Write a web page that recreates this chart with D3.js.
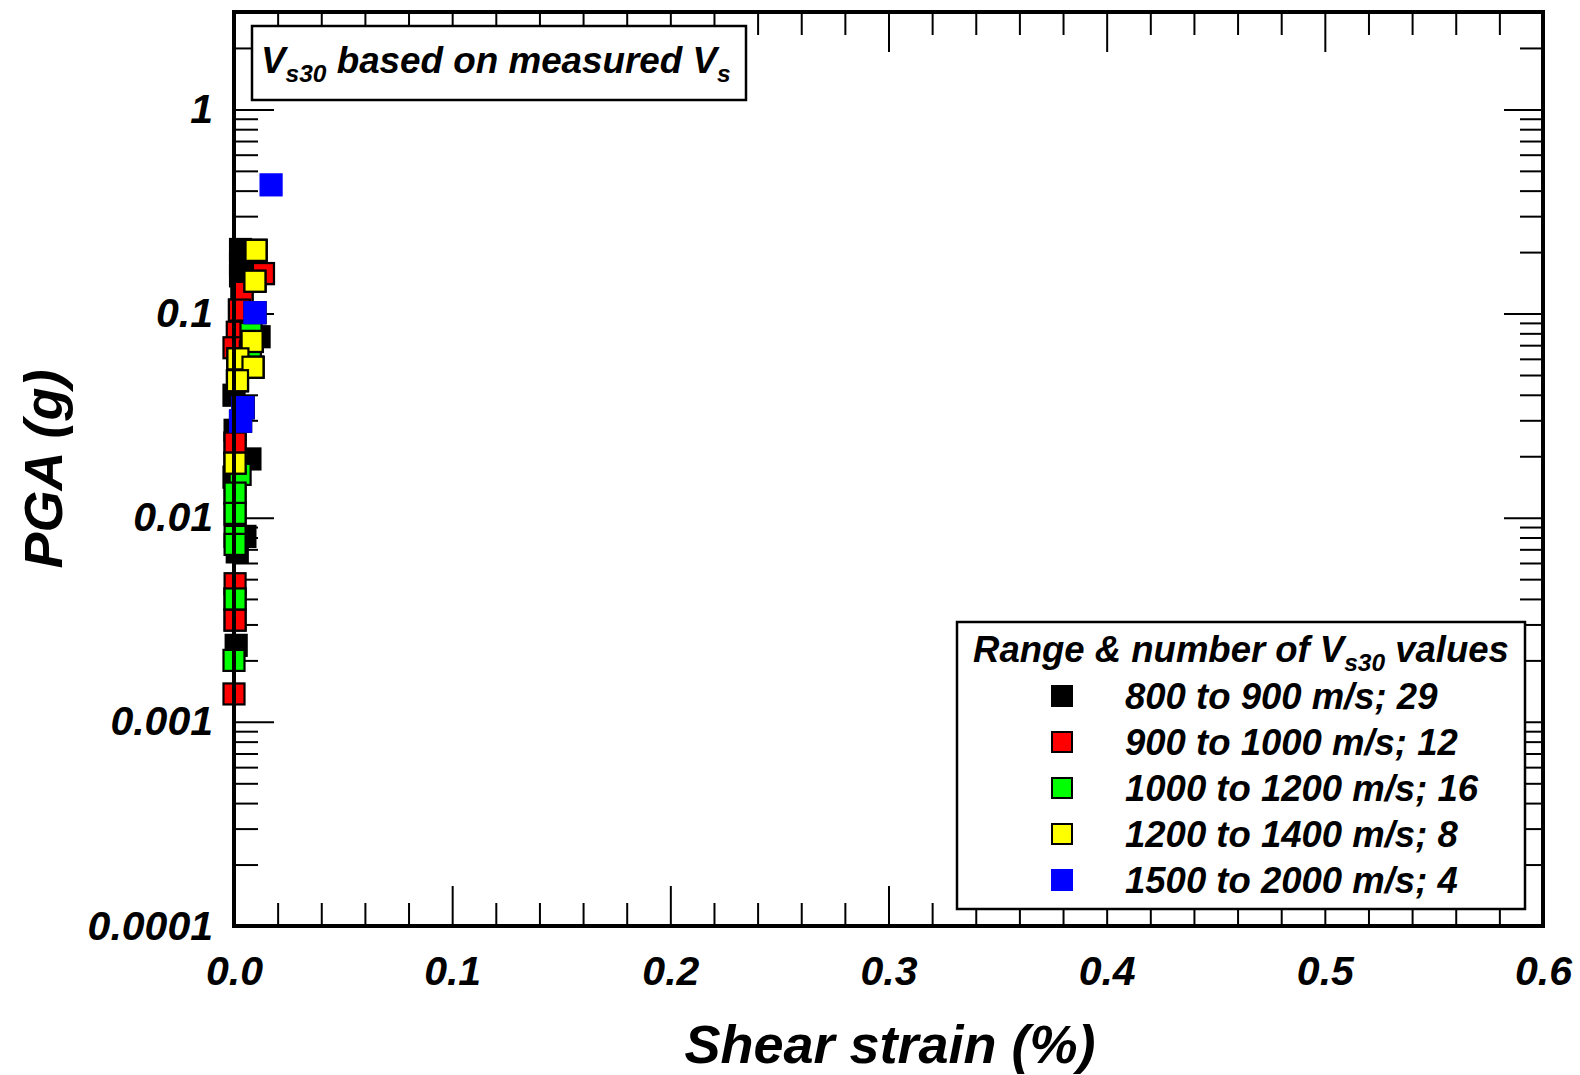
<!DOCTYPE html>
<html>
<head>
<meta charset="utf-8">
<script src="https://cdn.jsdelivr.net/npm/d3@7"></script>
<style>
    body { margin: 0; background: #fff; }
    svg text {
        font-family: "Liberation Sans", Arial, sans-serif;
        font-weight: bold;
        font-style: italic;
        fill: #000;
    }
</style>
</head>
<body>
<div id="chart"></div>
<script>
// Legend groups (Vs30 ranges)
const groupLabels = ['800 to 900 m/s; 29', '900 to 1000 m/s; 12', '1000 to 1200 m/s; 16', '1200 to 1400 m/s; 8', '1500 to 2000 m/s; 4'];
const groupColors = ['#000000', '#ff0000', '#00ff00', '#ffff00', '#0000ff'];

// Shear strain (%) and PGA (g) per group
const strain800 = [0.003, 0.003, 0.003, 0.0115, 0.0, 0.0005, 0.0073, 0.0, 0.005, 0.0015, 0.001,
    0.0101, 0.0096, 0.0135, 0.0025, 0.0096, 0.0083, 0.0018, 0.0087, 0.0016, 0.0041, 0.003, 0.0005, 0.0005, 0.0005, 0.0005, 0.0005, 0.0005, 0.0037];
const pga800 = [0.206, 0.175, 0.153, 0.077, 0.0398, 0.0268, 0.0194, 0.0158, 0.0081, 0.0068, 0.00237,
    0.204, 0.144, 0.157, 0.104, 0.101, 0.073, 0.060, 0.0546, 0.0469, 0.0346, 0.0297, 0.0232, 0.0185, 0.0132, 0.0104, 0.0040, 0.00315, 0.127];

const strain900 = [0.0135, 0.0037, 0.0025, 0.0015, 0.0, 0.0005, 0.0005, 0.0005, 0.0, 0.0101, 0.0096, 0.0018];
const pga900 = [0.157, 0.127, 0.104, 0.081, 0.068, 0.0232, 0.00475, 0.00315, 0.00137, 0.204, 0.144, 0.060];

const strain1000 = [0.0078, 0.0075, 0.0028, 0.0005, 0.0005, 0.0005, 0.0005, 0.0005, 0.0, 0.003, 0.0041, 0.0087, 0.0016, 0.0005, 0.0096, 0.0083];
const pga1000 = [0.080, 0.065, 0.0163, 0.0132, 0.0105, 0.0081, 0.0074, 0.0040, 0.0020, 0.0297, 0.0346, 0.0546, 0.0469, 0.0185, 0.101, 0.073];

const strain1200 = [0.0101, 0.0096, 0.0083, 0.0018, 0.0087, 0.0016, 0.0005, 0.0041];
const pga1200 = [0.204, 0.144, 0.073, 0.060, 0.0546, 0.0469, 0.0185, 0.0346];

const strain1500 = [0.017, 0.0096, 0.0041, 0.003];
const pga1500 = [0.427, 0.101, 0.0346, 0.0297];

// Axis ticks
const xMajorTicks = [0, 0.1, 0.2, 0.3, 0.4, 0.5, 0.6];
const yMajorTicks = [0.0001, 0.001, 0.01, 0.1, 1];

class StrainChart {
    constructor(config) {
        this.config = {
            parentElement: config.parentElement,
            containerWidth: 1580,
            containerHeight: 1075,
            margin: { top: 12, right: 37, bottom: 149, left: 234 },
            markerSize: 21
        };
        this.groups = [
            { x: strain800, y: pga800 },
            { x: strain900, y: pga900 },
            { x: strain1000, y: pga1000 },
            { x: strain1200, y: pga1200 },
            { x: strain1500, y: pga1500 }
        ];
        this.initVis();
    }

    initVis() {
        let vis = this;
        vis.width = vis.config.containerWidth - vis.config.margin.left - vis.config.margin.right;
        vis.height = vis.config.containerHeight - vis.config.margin.top - vis.config.margin.bottom;

        vis.xScale = d3.scaleLinear().domain([0, 0.6]).range([0, vis.width]);
        vis.yScale = d3.scaleLog().domain([0.0001, 3]).range([vis.height, 0]);

        vis.svg = d3.select(vis.config.parentElement)
            .append('svg')
            .attr('width', vis.config.containerWidth)
            .attr('height', vis.config.containerHeight);

        vis.chart = vis.svg.append('g')
            .attr('transform', `translate(${vis.config.margin.left},${vis.config.margin.top})`);

        // minor tick positions
        vis.xMinor = d3.range(0, 0.6001, 0.02).map(d => +d.toFixed(2)).filter(d => !xMajorTicks.includes(d));
        vis.yMinor = [];
        [0.0001, 0.001, 0.01, 0.1, 1].forEach(dec => {
            d3.range(2, 10).forEach(k => {
                const v = dec * k;
                if (v < 3) vis.yMinor.push(v);
            });
        });
    }

    renderVis() {
        let vis = this;

        // Inward ticks on all four sides
        const tickGroup = (axis, transform) => {
            vis.chart.append('g')
                .attr('transform', transform)
                .call(axis)
                .call(g => g.select('.domain').remove())
                .call(g => g.selectAll('line').attr('stroke', '#000').attr('stroke-width', 2));
        };

        tickGroup(d3.axisBottom(vis.xScale).tickValues(vis.xMinor).tickSize(-23).tickFormat(''), `translate(0,${vis.height})`);
        tickGroup(d3.axisTop(vis.xScale).tickValues(vis.xMinor).tickSize(-23).tickFormat(''), 'translate(0,0)');
        tickGroup(d3.axisTop(vis.xScale).tickValues(xMajorTicks).tickSize(-40).tickFormat(''), 'translate(0,0)');
        tickGroup(d3.axisLeft(vis.yScale).tickValues(vis.yMinor).tickSize(-24).tickFormat(''), 'translate(0,0)');
        tickGroup(d3.axisRight(vis.yScale).tickValues(vis.yMinor).tickSize(-23).tickFormat(''), `translate(${vis.width},0)`);
        tickGroup(d3.axisRight(vis.yScale).tickValues(yMajorTicks).tickSize(-39).tickFormat(''), `translate(${vis.width},0)`);

        // Labelled major axes
        vis.chart.append('g')
            .attr('class', 'x-axis')
            .attr('transform', `translate(0,${vis.height})`)
            .call(d3.axisBottom(vis.xScale).tickValues(xMajorTicks).tickSize(-40).tickPadding(30).tickFormat(d3.format('.1f')))
            .call(g => g.select('.domain').remove())
            .call(g => g.selectAll('line').attr('stroke', '#000').attr('stroke-width', 2))
            .call(g => g.selectAll('text').attr('font-size', 41).style('font-family', null));

        vis.chart.append('g')
            .attr('class', 'y-axis')
            .call(d3.axisLeft(vis.yScale).tickValues(yMajorTicks).tickSize(-40).tickPadding(21).tickFormat(d => d >= 1 ? '1' : String(d)))
            .call(g => g.select('.domain').remove())
            .call(g => g.selectAll('line').attr('stroke', '#000').attr('stroke-width', 2))
            .call(g => g.selectAll('text').attr('font-size', 41).style('font-family', null));

        // Points: drawn group by group so later groups sit on top
        const s = vis.config.markerSize;
        vis.groups.forEach((grp, gi) => {
            const pts = grp.x.map((x, i) => ({ x: x, y: grp.y[i] }));
            vis.chart.append('g')
                .selectAll('rect')
                .data(pts)
                .join('rect')
                .attr('x', d => vis.xScale(d.x) - s / 2)
                .attr('y', d => vis.yScale(d.y) - s / 2)
                .attr('width', s)
                .attr('height', s)
                .attr('fill', groupColors[gi])
                .attr('stroke', gi === 4 ? groupColors[gi] : '#000')
                .attr('stroke-width', 2.2);
        });

        // Plot frame
        vis.chart.append('rect')
            .attr('width', vis.width)
            .attr('height', vis.height)
            .attr('fill', 'none')
            .attr('stroke', '#000')
            .attr('stroke-width', 4);

        // Note box, top left
        vis.svg.append('rect')
            .attr('x', 252).attr('y', 26)
            .attr('width', 494).attr('height', 74)
            .attr('fill', '#fff').attr('stroke', '#000').attr('stroke-width', 2.5);
        const note = vis.svg.append('text').attr('x', 261).attr('y', 73).attr('font-size', 36.8);
        note.append('tspan').text('V');
        note.append('tspan').attr('font-size', 24.5).attr('dy', 9).text('s30');
        note.append('tspan').attr('dy', -9).text(' based on measured V');
        note.append('tspan').attr('font-size', 24.5).attr('dy', 9).text('s');

        // Legend box
        const lg = vis.svg.append('g');
        lg.append('rect')
            .attr('x', 957).attr('y', 622)
            .attr('width', 568).attr('height', 287)
            .attr('fill', '#fff').attr('stroke', '#000').attr('stroke-width', 2.5);
        const lt = lg.append('text').attr('x', 1241).attr('y', 662).attr('font-size', 36.5).attr('text-anchor', 'middle');
        lt.append('tspan').text('Range & number of V');
        lt.append('tspan').attr('font-size', 24.5).attr('dy', 9).text('s30');
        lt.append('tspan').attr('dy', -9).text(' values');

        const rowY = d3.scalePoint().domain(groupLabels).range([696, 880]);
        lg.selectAll('.legend-mark')
            .data(groupLabels)
            .join('rect')
            .attr('class', 'legend-mark')
            .attr('x', 1052).attr('y', d => rowY(d) - 10)
            .attr('width', 20).attr('height', 20)
            .attr('fill', (d, i) => groupColors[i])
            .attr('stroke', (d, i) => i === 4 ? groupColors[i] : '#000')
            .attr('stroke-width', 2);
        lg.selectAll('.legend-label')
            .data(groupLabels)
            .join('text')
            .attr('class', 'legend-label')
            .attr('x', 1125).attr('y', d => rowY(d) + 13)
            .attr('font-size', 36.5)
            .text(d => d);

        // Axis titles
        vis.svg.append('text')
            .attr('x', 890).attr('y', 1063)
            .attr('text-anchor', 'middle')
            .attr('font-size', 54)
            .text('Shear strain (%)');
        vis.svg.append('text')
            .attr('transform', 'translate(62,469) rotate(-90)')
            .attr('text-anchor', 'middle')
            .attr('font-size', 54)
            .text('PGA (g)');
    }
}

const chart = new StrainChart({ parentElement: '#chart' });
chart.renderVis();
</script>
</body>
</html>
